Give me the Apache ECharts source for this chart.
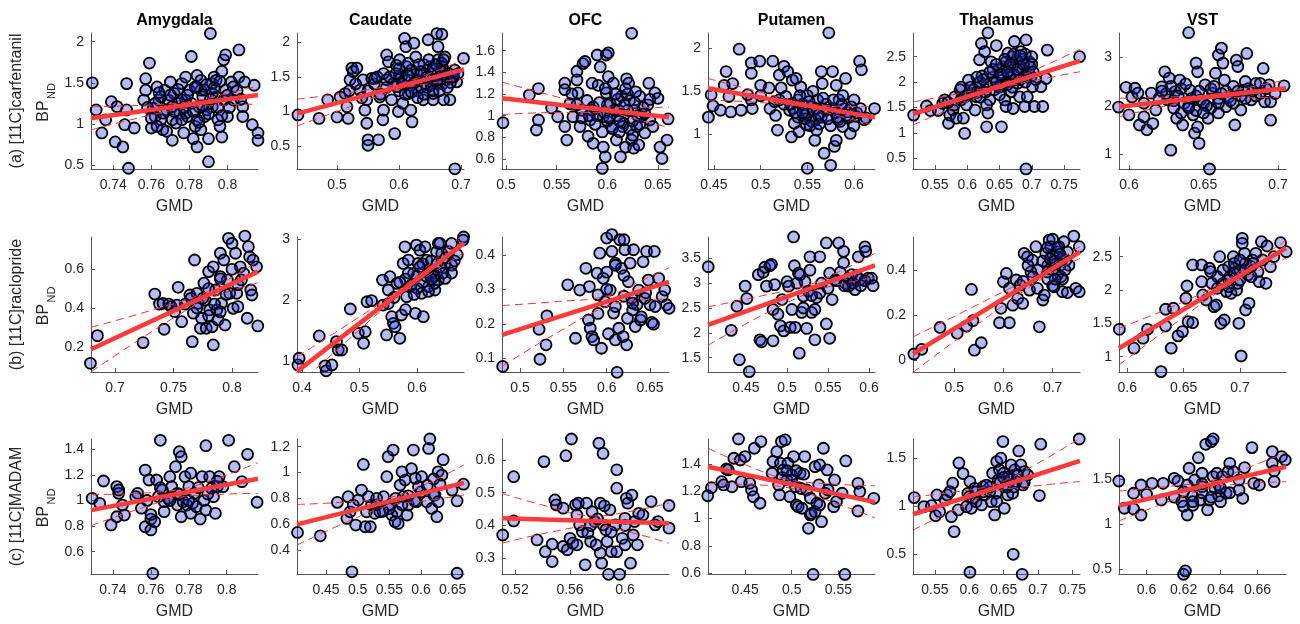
<!DOCTYPE html>
<html>
<head>
<meta charset="utf-8">
<script src="https://cdn.jsdelivr.net/npm/echarts@6/dist/echarts.min.js"></script>
<style>
html, body { margin: 0; background: #fff; }
#chart { width: 1300px; height: 624px; }
</style>
</head>
<body>
<div id="chart"></div>
<script>
const regions = ['Amygdala', 'Caudate', 'OFC', 'Putamen', 'Thalamus', 'VST'];
const tracers = ['(a) [11C]carfentanil', '(b) [11C]raclopride', '(c) [11C]MADAM'];

// ---- [11C]carfentanil : [GMD, BPnd]
const carfAmygdala = [[0.729,1.50],[0.731,1.17],[0.734,0.89],[0.736,1.05],[0.739,1.27],[0.741,0.78],[0.742,1.21],[0.745,0.72],[0.746,0.99],[0.747,1.49],[0.748,0.46],[0.747,1.17],[0.751,0.95],[0.756,1.29],[0.757,1.41],[0.757,1.55],[0.759,1.74],[0.760,0.95],[0.761,1.19],[0.762,1.09],[0.763,1.45],[0.764,1.29],[0.765,1.05],[0.766,0.93],[0.767,1.41],[0.768,1.17],[0.769,1.29],[0.770,1.51],[0.771,0.80],[0.771,1.05],[0.772,1.37],[0.774,1.25],[0.775,1.13],[0.776,1.49],[0.777,0.89],[0.778,1.57],[0.778,1.29],[0.779,1.09],[0.780,1.41],[0.781,1.82],[0.782,0.82],[0.783,0.97],[0.784,1.59],[0.784,0.72],[0.785,1.21],[0.786,1.41],[0.786,0.93],[0.787,1.33],[0.788,1.09],[0.790,0.54],[0.790,0.82],[0.791,2.10],[0.792,1.49],[0.792,1.21],[0.793,1.57],[0.794,1.33],[0.795,1.05],[0.796,0.97],[0.797,0.84],[0.797,1.64],[0.798,1.78],[0.799,1.84],[0.800,1.09],[0.802,1.51],[0.803,1.29],[0.806,1.90],[0.806,1.57],[0.808,1.21],[0.809,1.51],[0.808,1.09],[0.813,0.99],[0.814,1.47],[0.816,0.89],[0.816,0.80],
  [0.765,1.33],[0.768,0.91],[0.771,1.21],[0.773,1.01],[0.776,1.29],[0.778,1.13],[0.781,1.25],[0.784,1.05],[0.786,1.53],[0.788,1.41],[0.789,1.17],[0.792,1.37],[0.794,1.53],[0.798,1.29],[0.799,1.41],[0.803,1.45],[0.760,1.07],[0.763,0.97],[0.776,1.05],[0.784,1.45],
  [0.762,1.25],[0.766,1.13],[0.770,1.35],[0.772,1.15],[0.774,1.42],[0.777,1.20],[0.779,1.35],[0.782,1.15],[0.783,1.45],[0.785,1.02],[0.787,1.22],[0.789,1.48],[0.790,1.12],[0.791,1.30],[0.793,1.44],[0.795,1.20],[0.796,1.52],[0.797,1.10],[0.800,1.35],[0.801,1.20],[0.805,1.40],[0.807,1.30],[0.758,1.20],[0.764,1.38]];
const carfCaudate = [[0.437,0.95],[0.471,0.90],[0.485,1.17],[0.500,0.92],[0.505,1.21],[0.513,1.26],[0.516,1.07],[0.518,0.90],[0.521,1.46],[0.524,1.63],[0.526,1.58],[0.532,1.63],[0.537,1.31],[0.542,1.46],[0.548,1.17],[0.545,1.02],[0.548,0.83],[0.550,0.59],[0.550,0.51],[0.556,1.48],[0.561,1.48],[0.567,0.59],[0.569,1.21],[0.574,0.88],[0.575,1.02],[0.580,1.46],[0.580,1.82],[0.583,1.72],[0.588,1.17],[0.593,0.68],[0.596,1.67],[0.596,1.36],[0.599,1.00],[0.601,1.75],[0.604,1.50],[0.606,1.12],[0.609,2.06],[0.611,1.94],[0.612,1.65],[0.615,1.26],[0.619,1.02],[0.621,0.85],[0.624,1.99],[0.627,1.79],[0.629,1.55],[0.636,1.36],[0.639,1.17],[0.647,2.04],[0.650,1.65],[0.655,1.41],[0.661,2.13],[0.663,1.75],[0.655,1.17],[0.669,2.12],[0.663,1.94],[0.674,1.79],[0.669,1.70],[0.658,1.60],[0.661,1.41],[0.677,1.46],[0.693,1.43],[0.704,1.77],[0.682,1.17],[0.672,1.17],[0.690,0.17],[0.655,1.26],
  [0.59,1.40],[0.60,1.50],[0.61,1.45],[0.62,1.38],[0.63,1.45],[0.64,1.55],[0.645,1.35],[0.65,1.48],[0.66,1.52],[0.67,1.40],[0.68,1.55],[0.69,1.60],[0.62,1.60],[0.63,1.30],[0.60,1.30],[0.58,1.35],[0.57,1.25],[0.56,1.40],[0.55,1.30],[0.54,1.20],[0.565,1.50],[0.575,1.55],[0.64,1.68],[0.655,1.62],[0.67,1.65],[0.685,1.50],[0.61,1.25],[0.53,1.40],[0.52,1.30],
  [0.585,1.50],[0.595,1.55],[0.605,1.40],[0.615,1.52],[0.625,1.42],[0.635,1.58],[0.645,1.50],[0.652,1.38],[0.662,1.46],[0.668,1.58],[0.675,1.52],[0.683,1.42],[0.688,1.50],[0.695,1.55],[0.62,1.28],[0.63,1.20],[0.64,1.25],[0.655,1.30],[0.665,1.30],[0.678,1.35],[0.60,1.62],[0.615,1.70],[0.632,1.68],[0.648,1.75],[0.66,1.68],[0.672,1.75]];
const carfOFC = [[0.497,0.935],[0.523,1.19],[0.530,0.868],[0.532,0.96],[0.532,1.25],[0.545,1.07],[0.551,0.99],[0.558,1.30],[0.558,0.90],[0.560,0.775],[0.558,1.24],[0.563,1.11],[0.566,0.99],[0.570,1.41],[0.570,1.33],[0.571,1.21],[0.573,0.90],[0.575,1.05],[0.576,1.48],[0.578,1.50],[0.580,1.14],[0.581,0.81],[0.583,0.96],[0.585,1.30],[0.586,0.745],[0.586,1.08],[0.590,1.56],[0.591,1.28],[0.593,1.45],[0.595,0.514],[0.596,0.71],[0.596,0.99],[0.598,0.62],[0.599,1.56],[0.599,1.21],[0.601,1.58],[0.601,1.36],[0.603,1.11],[0.604,0.90],[0.606,1.30],[0.609,0.775],[0.611,1.05],[0.613,0.62],[0.614,1.18],[0.616,0.93],[0.618,0.71],[0.619,1.34],[0.621,1.30],[0.622,1.14],[0.624,1.76],[0.624,0.775],[0.626,0.70],[0.627,1.05],[0.629,0.90],[0.631,0.73],[0.632,1.18],[0.634,0.99],[0.637,0.84],[0.641,1.30],[0.642,0.96],[0.647,1.21],[0.650,1.16],[0.652,0.71],[0.654,0.605],[0.659,0.775],[0.660,0.97],
  [0.59,1.00],[0.60,0.95],[0.61,1.00],[0.615,0.90],[0.62,1.05],[0.625,0.95],[0.63,1.00],[0.60,1.10],[0.61,1.15],[0.62,1.20],[0.595,0.85],[0.605,0.88],[0.635,1.08],[0.64,1.10],[0.585,1.05],[0.575,0.98],[0.57,1.10],[0.565,1.20],
  [0.582,1.00],[0.588,0.92],[0.592,1.12],[0.597,1.03],[0.602,0.98],[0.607,1.05],[0.612,0.95],[0.617,1.10],[0.622,0.88],[0.627,1.12],[0.632,0.92],[0.637,1.02],[0.642,1.15],[0.645,0.90],[0.598,1.25],[0.608,1.20],[0.618,1.25],[0.628,1.22],[0.612,0.85],[0.625,0.82]];
const carfPutamen = [[0.444,1.20],[0.447,1.46],[0.449,1.33],[0.457,1.28],[0.461,1.57],[0.463,1.73],[0.466,1.44],[0.468,1.26],[0.470,1.59],[0.477,1.99],[0.479,1.28],[0.486,1.46],[0.490,1.83],[0.490,1.71],[0.491,1.30],[0.499,1.85],[0.500,1.57],[0.509,1.54],[0.513,1.85],[0.515,1.38],[0.516,1.22],[0.518,1.05],[0.520,1.69],[0.522,1.54],[0.525,1.79],[0.527,1.44],[0.529,1.73],[0.531,1.28],[0.533,0.97],[0.534,1.63],[0.536,1.13],[0.538,1.65],[0.540,1.40],[0.541,1.03],[0.543,1.55],[0.547,1.22],[0.549,1.11],[0.550,0.605],[0.554,1.32],[0.556,1.50],[0.558,0.93],[0.559,1.17],[0.561,1.40],[0.565,1.73],[0.566,1.59],[0.568,0.78],[0.570,1.28],[0.573,2.18],[0.575,0.64],[0.577,1.73],[0.579,0.86],[0.581,1.57],[0.581,0.93],[0.583,1.17],[0.584,1.40],[0.588,1.09],[0.591,1.65],[0.593,1.26],[0.596,1.01],[0.600,1.40],[0.602,1.21],[0.606,1.85],[0.608,1.75],[0.611,1.17],[0.622,1.30],[0.613,1.19],
  [0.535,1.30],[0.54,1.20],[0.545,1.35],[0.55,1.25],[0.555,1.15],[0.56,1.30],[0.565,1.20],[0.57,1.35],[0.575,1.10],[0.58,1.25],[0.585,1.15],[0.59,1.30],[0.595,1.20],[0.60,1.10],[0.55,1.45],[0.56,1.05],[0.52,1.40],[0.51,1.30],[0.50,1.45],[0.49,1.40],
  [0.532,1.35],[0.537,1.25],[0.542,1.45],[0.548,1.18],[0.552,1.38],[0.557,1.28],[0.562,1.22],[0.567,1.42],[0.572,1.18],[0.577,1.30],[0.582,1.20],[0.587,1.35],[0.592,1.22],[0.597,1.32],[0.603,1.25],[0.607,1.30],[0.553,1.10],[0.563,1.12],[0.578,1.40],[0.588,1.45],[0.545,1.25],[0.525,1.35]];
const carfThalamus = [[0.517,1.35],[0.537,1.53],[0.543,1.44],[0.555,1.44],[0.562,1.58],[0.565,1.65],[0.571,1.19],[0.573,1.35],[0.578,1.45],[0.581,1.71],[0.583,1.29],[0.589,1.85],[0.591,1.90],[0.594,1.29],[0.596,0.99],[0.599,1.55],[0.602,2.04],[0.607,1.78],[0.612,1.45],[0.614,1.71],[0.617,1.98],[0.619,2.44],[0.622,2.76],[0.623,2.12],[0.627,2.60],[0.630,1.12],[0.632,2.97],[0.632,1.39],[0.635,1.65],[0.637,2.40],[0.640,1.98],[0.642,1.85],[0.645,2.72],[0.649,2.24],[0.653,1.12],[0.655,2.11],[0.658,1.65],[0.660,1.52],[0.663,2.57],[0.665,2.30],[0.668,1.81],[0.671,1.48],[0.673,2.80],[0.676,2.40],[0.678,1.98],[0.681,1.71],[0.683,2.60],[0.686,2.24],[0.689,1.52],[0.691,2.83],[0.691,0.29],[0.693,1.71],[0.696,2.40],[0.699,2.11],[0.701,1.91],[0.704,1.52],[0.714,1.91],[0.717,1.52],[0.722,2.07],[0.724,2.63],[0.774,2.50],
  [0.61,1.85],[0.62,1.70],[0.63,1.95],[0.64,2.10],[0.65,1.90],[0.655,2.30],[0.66,2.00],[0.665,2.15],[0.67,1.90],[0.675,2.05],[0.68,2.30],[0.685,2.45],[0.69,2.00],[0.695,2.20],[0.70,2.35],[0.66,2.40],[0.64,2.25],[0.62,2.00],[0.60,1.75],[0.59,1.65],[0.58,1.55],[0.57,1.60],[0.65,1.75],[0.63,1.55],[0.67,2.50],[0.69,2.55],[0.70,2.50],
  [0.605,1.90],[0.615,1.80],[0.625,2.05],[0.635,2.20],[0.645,2.00],[0.652,2.15],[0.658,2.45],[0.662,1.95],[0.667,2.35],[0.672,2.15],[0.677,2.25],[0.682,2.05],[0.687,2.35],[0.692,2.10],[0.697,2.30],[0.702,2.20],[0.706,2.05],[0.672,2.55],[0.682,2.52],[0.662,2.20],[0.645,2.35],[0.628,1.80],[0.615,2.10],[0.595,1.70]];
const carfVST = [[0.593,1.97],[0.598,2.38],[0.600,1.81],[0.602,2.18],[0.604,2.36],[0.606,2.26],[0.607,1.60],[0.610,1.77],[0.612,1.50],[0.615,2.26],[0.616,1.63],[0.618,1.91],[0.622,2.39],[0.624,2.70],[0.626,2.12],[0.627,2.57],[0.628,1.08],[0.631,2.29],[0.632,1.74],[0.634,2.53],[0.636,1.60],[0.637,2.05],[0.640,3.51],[0.641,2.32],[0.643,1.81],[0.644,1.43],[0.645,2.88],[0.646,2.70],[0.646,1.56],[0.647,1.22],[0.648,2.12],[0.651,2.43],[0.653,1.74],[0.654,0.69],[0.656,2.26],[0.658,2.67],[0.660,3.05],[0.662,3.19],[0.663,2.88],[0.664,2.53],[0.665,1.98],[0.667,2.18],[0.671,1.60],[0.672,2.94],[0.673,2.81],[0.675,1.91],[0.677,2.32],[0.678,2.50],[0.679,3.08],[0.682,2.12],[0.685,2.46],[0.688,2.46],[0.690,2.77],[0.691,2.08],[0.695,2.08],[0.695,1.70],[0.694,2.43],[0.704,2.41],
  [0.625,2.25],[0.63,2.10],[0.635,2.35],[0.64,2.00],[0.645,2.20],[0.65,2.05],[0.655,2.35],[0.66,2.15],[0.665,2.30],[0.67,2.05],[0.675,2.20],[0.68,2.35],[0.685,2.20],[0.645,1.90],[0.655,1.95],[0.635,1.85],[0.62,2.15],[0.61,2.05],[0.66,1.85],[0.67,2.40],
  [0.622,2.30],[0.628,2.40],[0.633,2.20],[0.638,2.45],[0.642,2.15],[0.647,2.30],[0.652,2.00],[0.657,2.40],[0.662,2.25],[0.668,2.10],[0.673,2.30],[0.678,2.15],[0.683,2.30],[0.688,2.25],[0.640,1.95],[0.650,1.85],[0.660,2.05],[0.630,1.95],[0.692,2.35],[0.698,2.25]];

// ---- [11C]raclopride
const raclAmygdala = [[0.679,0.114],[0.685,0.257],[0.724,0.221],[0.734,0.472],[0.738,0.42],[0.741,0.424],[0.742,0.29],[0.746,0.42],[0.748,0.407],[0.751,0.381],[0.753,0.415],[0.754,0.507],[0.757,0.329],[0.764,0.467],[0.766,0.226],[0.767,0.373],[0.768,0.648],[0.770,0.476],[0.771,0.424],[0.773,0.295],[0.774,0.347],[0.776,0.528],[0.777,0.441],[0.778,0.295],[0.780,0.588],[0.781,0.39],[0.783,0.303],[0.784,0.613],[0.784,0.209],[0.786,0.493],[0.787,0.39],[0.788,0.338],[0.790,0.683],[0.790,0.562],[0.791,0.424],[0.793,0.648],[0.794,0.312],[0.796,0.545],[0.797,0.76],[0.798,0.476],[0.800,0.734],[0.801,0.398],[0.803,0.683],[0.804,0.476],[0.805,0.407],[0.807,0.613],[0.808,0.545],[0.811,0.772],[0.813,0.347],[0.814,0.717],[0.815,0.665],[0.816,0.493],[0.817,0.467],[0.818,0.648],[0.821,0.613],[0.822,0.307],
  [0.775,0.45],[0.78,0.50],[0.785,0.42],[0.79,0.55],[0.795,0.47],[0.80,0.60],[0.805,0.52],[0.77,0.40],[0.765,0.45],[0.79,0.38],[0.78,0.36],[0.81,0.58],[0.76,0.42]];
const raclCaudate = [[0.393,0.946],[0.395,1.055],[0.430,1.42],[0.440,0.93],[0.442,0.85],[0.452,0.946],[0.460,1.327],[0.463,1.19],[0.469,1.19],[0.484,1.861],[0.498,1.464],[0.507,1.30],[0.510,1.49],[0.513,1.98],[0.521,1.997],[0.540,2.335],[0.541,1.926],[0.547,1.437],[0.550,2.172],[0.553,2.39],[0.556,1.735],[0.559,1.627],[0.562,1.572],[0.565,2.281],[0.570,1.382],[0.573,1.763],[0.576,2.608],[0.579,2.879],[0.582,2.062],[0.585,2.662],[0.588,2.226],[0.594,2.444],[0.597,1.791],[0.599,2.907],[0.602,2.608],[0.605,2.825],[0.608,2.118],[0.611,1.735],[0.614,2.879],[0.617,2.662],[0.620,2.226],[0.623,2.444],[0.631,2.172],[0.634,2.797],[0.637,2.935],[0.640,2.935],[0.643,2.77],[0.649,2.608],[0.634,2.444],[0.637,2.335],[0.660,2.935],[0.660,2.58],[0.649,2.363],[0.681,3.04],[0.680,2.99],[0.630,2.281],
  [0.58,2.35],[0.59,2.25],[0.60,2.40],[0.61,2.30],[0.62,2.50],[0.63,2.40],[0.64,2.55],[0.65,2.70],[0.66,2.45],[0.60,2.20],[0.62,2.15],[0.57,2.30],[0.56,2.05],[0.55,1.95],[0.58,1.85],[0.61,2.60],[0.67,2.75],
  [0.585,2.45],[0.595,2.10],[0.605,2.55],[0.615,2.40],[0.625,2.65],[0.635,2.60],[0.645,2.45],[0.655,2.80],[0.665,2.65],[0.625,2.35]];
const raclOFC = [[0.480,0.076],[0.522,0.184],[0.523,0.097],[0.531,0.223],[0.530,0.139],[0.555,0.313],[0.564,0.158],[0.569,0.298],[0.576,0.361],[0.579,0.211],[0.580,0.308],[0.581,0.187],[0.583,0.163],[0.585,0.153],[0.589,0.347],[0.590,0.284],[0.592,0.405],[0.594,0.129],[0.596,0.332],[0.598,0.264],[0.600,0.449],[0.602,0.171],[0.604,0.298],[0.606,0.459],[0.606,0.41],[0.608,0.231],[0.610,0.153],[0.610,0.376],[0.612,0.059],[0.614,0.187],[0.615,0.444],[0.617,0.361],[0.619,0.163],[0.620,0.444],[0.621,0.415],[0.623,0.139],[0.624,0.216],[0.625,0.322],[0.627,0.376],[0.629,0.274],[0.631,0.415],[0.633,0.192],[0.635,0.255],[0.637,0.298],[0.639,0.211],[0.642,0.38],[0.644,0.274],[0.646,0.41],[0.648,0.327],[0.650,0.255],[0.652,0.204],[0.654,0.199],[0.655,0.41],[0.656,0.25],[0.660,0.332],[0.664,0.279],[0.667,0.298],[0.669,0.255],[0.672,0.245],
  [0.60,0.30],[0.61,0.25],[0.62,0.28],[0.63,0.24],[0.64,0.22],[0.59,0.23],[0.60,0.35],[0.61,0.37],[0.62,0.34],[0.63,0.26],[0.645,0.29]];
const raclPutamen = [[0.404,3.33],[0.432,2.05],[0.439,2.535],[0.442,1.46],[0.449,2.94],[0.454,1.22],[0.451,2.69],[0.465,3.17],[0.467,1.86],[0.469,1.82],[0.471,3.22],[0.473,3.32],[0.475,2.94],[0.479,3.35],[0.481,3.38],[0.483,1.84],[0.483,2.47],[0.485,2.97],[0.489,2.375],[0.492,2.14],[0.494,2.67],[0.496,2.04],[0.500,3.03],[0.502,2.94],[0.504,2.11],[0.506,2.47],[0.508,3.93],[0.509,3.35],[0.510,2.11],[0.512,3.00],[0.514,3.20],[0.515,1.59],[0.516,3.17],[0.518,2.41],[0.520,2.74],[0.522,3.03],[0.524,2.09],[0.526,2.84],[0.528,3.26],[0.528,3.53],[0.530,2.41],[0.534,2.47],[0.534,1.86],[0.536,2.71],[0.540,3.53],[0.542,3.00],[0.548,3.81],[0.548,2.18],[0.552,1.89],[0.552,3.20],[0.555,2.67],[0.559,3.07],[0.563,3.81],[0.565,3.22],[0.569,3.64],[0.569,3.41],[0.571,3.00],[0.575,2.94],[0.579,3.17],[0.583,2.87],[0.587,3.53],[0.589,3.07],[0.595,3.73],[0.596,3.64],[0.599,3.10],[0.603,3.10],[0.605,2.95],
  [0.56,3.05],[0.57,2.95],[0.575,3.10],[0.58,3.00],[0.585,3.15],[0.59,2.95],[0.595,3.05],[0.55,2.90],[0.54,2.80],[0.53,2.75],[0.52,2.50]];
const raclThalamus = [[0.418,0.027],[0.434,0.048],[0.471,0.145],[0.506,0.119],[0.525,0.151],[0.535,0.314],[0.538,0.175],[0.541,0.044],[0.555,0.077],[0.592,0.166],[0.595,0.23],[0.600,0.348],[0.606,0.385],[0.612,0.166],[0.612,0.319],[0.619,0.244],[0.626,0.356],[0.629,0.274],[0.634,0.333],[0.639,0.252],[0.642,0.474],[0.649,0.459],[0.653,0.311],[0.656,0.392],[0.659,0.444],[0.666,0.504],[0.669,0.319],[0.673,0.148],[0.680,0.267],[0.683,0.289],[0.686,0.474],[0.690,0.392],[0.693,0.533],[0.696,0.504],[0.700,0.537],[0.703,0.326],[0.707,0.43],[0.710,0.481],[0.713,0.504],[0.717,0.37],[0.720,0.304],[0.723,0.526],[0.727,0.444],[0.730,0.30],[0.733,0.422],[0.743,0.551],[0.747,0.319],[0.754,0.504],[0.754,0.304],
  [0.69,0.42],[0.70,0.40],[0.71,0.38],[0.72,0.45],[0.70,0.47],[0.68,0.44],[0.67,0.40],[0.66,0.37],[0.71,0.50],[0.72,0.36],[0.73,0.48],[0.69,0.36],[0.65,0.42],[0.64,0.35],[0.70,0.33],
  [0.695,0.45],[0.705,0.44],[0.715,0.42],[0.725,0.40],[0.705,0.36],[0.69,0.50],[0.715,0.47]];
const raclVST = [[0.593,1.41],[0.606,1.127],[0.614,1.277],[0.618,1.41],[0.630,0.776],[0.634,1.711],[0.634,1.46],[0.639,1.127],[0.641,1.726],[0.645,1.312],[0.649,1.376],[0.652,1.876],[0.653,2.06],[0.654,1.525],[0.658,1.51],[0.658,2.376],[0.666,2.376],[0.666,2.125],[0.667,1.926],[0.670,1.85],[0.673,2.326],[0.674,2.275],[0.677,1.75],[0.679,1.775],[0.680,2.026],[0.682,2.50],[0.683,1.50],[0.685,2.30],[0.686,1.55],[0.688,1.976],[0.691,2.20],[0.692,1.95],[0.694,2.50],[0.695,2.326],[0.697,2.00],[0.698,2.10],[0.699,1.50],[0.701,1.01],[0.702,2.775],[0.702,2.70],[0.704,2.55],[0.705,1.70],[0.707,2.226],[0.708,1.80],[0.711,2.45],[0.714,2.55],[0.716,2.275],[0.717,2.125],[0.719,2.725],[0.723,2.10],[0.724,2.66],[0.727,2.35],[0.730,2.50],[0.736,2.71],[0.741,2.575],
  [0.685,2.10],[0.69,2.35],[0.695,2.40],[0.70,2.30],[0.705,2.40],[0.71,2.35],[0.68,2.20],[0.675,2.10],[0.70,2.15],[0.69,2.05],[0.71,2.20],[0.72,2.45],
  [0.695,2.25],[0.705,2.30],[0.712,2.40],[0.69,2.15],[0.70,2.45]];

// ---- [11C]MADAM
const madamAmygdala = [[0.729,1.017],[0.733,0.978],[0.735,1.152],[0.739,0.809],[0.742,1.108],[0.742,0.873],[0.743,1.056],[0.743,1.082],[0.745,0.964],[0.746,0.886],[0.753,1.056],[0.752,1.03],[0.755,0.94],[0.757,1.237],[0.757,0.795],[0.758,1.00],[0.759,1.16],[0.760,0.855],[0.760,0.77],[0.760,0.89],[0.761,0.43],[0.762,0.834],[0.763,1.16],[0.764,1.03],[0.765,1.47],[0.766,1.082],[0.767,0.913],[0.767,0.991],[0.769,1.017],[0.770,1.186],[0.771,1.108],[0.773,1.264],[0.774,0.964],[0.774,1.056],[0.775,1.381],[0.776,1.342],[0.776,0.873],[0.777,0.991],[0.778,1.186],[0.779,0.964],[0.780,1.108],[0.781,0.90],[0.781,1.213],[0.782,0.978],[0.783,1.056],[0.784,0.952],[0.786,0.855],[0.787,1.186],[0.788,1.00],[0.789,0.925],[0.789,1.428],[0.791,1.186],[0.792,1.095],[0.793,1.03],[0.794,0.90],[0.795,1.108],[0.796,1.186],[0.798,1.108],[0.801,1.47],[0.804,1.264],[0.808,1.147],[0.811,1.36],[0.816,0.986],
  [0.775,1.05],[0.78,1.00],[0.785,1.10],[0.79,1.05],[0.77,1.00],[0.765,1.10],[0.795,1.15]];
const madamCaudate = [[0.405,0.536],[0.441,0.51],[0.468,0.769],[0.483,0.645],[0.485,0.813],[0.488,0.696],[0.491,0.231],[0.493,0.748],[0.497,0.593],[0.501,0.787],[0.506,0.864],[0.509,1.063],[0.512,0.58],[0.514,0.696],[0.517,0.813],[0.520,0.58],[0.522,0.748],[0.527,0.684],[0.530,0.80],[0.535,0.696],[0.541,0.813],[0.546,0.968],[0.548,1.123],[0.551,0.748],[0.554,0.671],[0.556,1.174],[0.559,0.619],[0.562,0.696],[0.564,0.606],[0.567,0.903],[0.570,1.006],[0.572,0.813],[0.575,0.942],[0.578,0.671],[0.580,0.748],[0.585,1.03],[0.588,1.174],[0.591,0.955],[0.593,0.774],[0.596,0.89],[0.601,0.968],[0.609,0.774],[0.612,1.187],[0.614,1.26],[0.617,0.722],[0.620,0.826],[0.625,0.658],[0.627,1.006],[0.635,1.10],[0.633,0.98],[0.622,0.826],[0.627,0.774],[0.630,0.91],[0.649,0.864],[0.657,0.22],[0.667,0.91],[0.657,0.78],
  [0.58,0.82],[0.59,0.78],[0.60,0.85],[0.57,0.75],[0.56,0.80],[0.55,0.72],[0.61,0.90],[0.62,0.95],[0.54,0.70],[0.53,0.75]];
const madamOFC = [[0.511,0.371],[0.519,0.414],[0.519,0.549],[0.536,0.356],[0.541,0.595],[0.542,0.32],[0.547,0.29],[0.547,0.343],[0.549,0.478],[0.550,0.463],[0.555,0.453],[0.555,0.336],[0.557,0.613],[0.558,0.326],[0.560,0.361],[0.561,0.664],[0.562,0.346],[0.564,0.463],[0.565,0.432],[0.565,0.341],[0.566,0.468],[0.567,0.402],[0.569,0.381],[0.571,0.28],[0.572,0.468],[0.573,0.377],[0.575,0.351],[0.576,0.442],[0.578,0.412],[0.579,0.341],[0.581,0.651],[0.582,0.468],[0.582,0.316],[0.583,0.285],[0.584,0.62],[0.584,0.402],[0.586,0.387],[0.587,0.351],[0.588,0.251],[0.589,0.448],[0.590,0.32],[0.593,0.402],[0.594,0.57],[0.594,0.514],[0.594,0.32],[0.596,0.251],[0.598,0.361],[0.600,0.422],[0.600,0.341],[0.601,0.483],[0.602,0.468],[0.604,0.285],[0.605,0.493],[0.606,0.371],[0.607,0.412],[0.609,0.341],[0.610,0.437],[0.613,0.432],[0.619,0.473],[0.622,0.402],[0.624,0.412],[0.632,0.461],[0.632,0.392],
  [0.58,0.42],[0.59,0.38],[0.575,0.40],[0.60,0.40],[0.585,0.46]];
const madamPutamen = [[0.410,1.167],[0.414,1.226],[0.425,1.27],[0.427,1.246],[0.430,1.363],[0.432,1.356],[0.436,1.233],[0.438,1.442],[0.443,1.583],[0.445,1.429],[0.446,1.27],[0.450,1.454],[0.455,1.258],[0.457,1.209],[0.459,1.16],[0.460,1.515],[0.466,1.112],[0.467,1.564],[0.479,1.332],[0.480,1.418],[0.484,1.49],[0.486,1.246],[0.487,1.173],[0.488,1.405],[0.489,1.564],[0.491,1.356],[0.493,1.576],[0.495,1.283],[0.496,1.405],[0.498,1.16],[0.500,1.32],[0.502,1.454],[0.504,1.233],[0.505,1.099],[0.507,1.087],[0.509,1.332],[0.511,1.075],[0.513,1.325],[0.514,1.454],[0.516,1.209],[0.518,0.928],[0.520,1.026],[0.523,0.59],[0.521,1.037],[0.525,1.38],[0.527,1.112],[0.529,1.246],[0.530,1.393],[0.532,0.977],[0.534,1.515],[0.536,1.185],[0.538,1.356],[0.539,1.209],[0.545,1.087],[0.546,1.283],[0.548,1.124],[0.554,1.185],[0.557,0.59],[0.558,1.422],[0.571,1.258],[0.571,1.055],[0.573,1.197],[0.588,1.148],
  [0.49,1.30],[0.50,1.28],[0.51,1.22],[0.52,1.15],[0.53,1.10],[0.525,1.05],[0.505,1.35],[0.495,1.35]];
const madamThalamus = [[0.520,1.09],[0.534,0.996],[0.545,1.006],[0.551,0.902],[0.553,1.118],[0.557,0.944],[0.565,1.066],[0.568,1.118],[0.572,1.153],[0.574,0.892],[0.576,1.24],[0.578,0.736],[0.584,0.962],[0.585,1.451],[0.591,1.34],[0.596,0.996],[0.598,1.135],[0.601,0.313],[0.601,1.257],[0.603,0.979],[0.605,1.083],[0.608,1.187],[0.610,1.048],[0.618,1.014],[0.620,1.204],[0.622,1.118],[0.630,1.153],[0.632,1.048],[0.634,1.344],[0.637,0.91],[0.639,1.135],[0.640,1.465],[0.642,1.274],[0.644,1.378],[0.646,1.50],[0.649,1.673],[0.650,1.344],[0.651,0.979],[0.654,1.222],[0.656,1.118],[0.658,1.309],[0.661,1.43],[0.663,1.135],[0.664,0.50],[0.666,1.378],[0.668,1.257],[0.672,1.576],[0.675,1.43],[0.677,0.292],[0.678,1.222],[0.680,1.361],[0.685,1.326],[0.702,1.111],[0.704,1.646],[0.760,1.70],
  [0.62,1.15],[0.63,1.20],[0.645,1.25],[0.65,1.30],[0.655,1.20],[0.66,1.28],[0.665,1.20],[0.67,1.32],[0.68,1.25],[0.60,1.10],[0.61,1.15],[0.64,1.05],[0.625,1.22]];
const madamVST = [[0.585,1.481],[0.588,1.177],[0.593,1.344],[0.593,1.169],[0.597,1.102],[0.597,1.436],[0.600,1.333],[0.603,1.455],[0.608,1.269],[0.609,1.455],[0.615,1.511],[0.617,1.481],[0.619,1.25],[0.620,1.361],[0.620,0.441],[0.621,0.478],[0.622,1.436],[0.622,1.102],[0.623,1.623],[0.625,1.21],[0.625,1.314],[0.626,1.492],[0.628,1.741],[0.629,1.269],[0.630,1.567],[0.630,1.418],[0.632,1.89],[0.633,1.158],[0.634,1.269],[0.635,1.92],[0.636,1.53],[0.636,1.95],[0.637,1.40],[0.638,1.567],[0.639,1.314],[0.639,1.436],[0.641,1.53],[0.643,1.344],[0.644,1.585],[0.645,1.678],[0.647,1.585],[0.650,1.492],[0.652,1.288],[0.653,1.63],[0.657,1.853],[0.658,1.455],[0.661,1.436],[0.668,1.808],[0.668,1.678],[0.669,1.593],[0.669,1.474],[0.673,1.753],[0.675,1.715],
  [0.63,1.35],[0.635,1.30],[0.64,1.40],[0.645,1.35],[0.625,1.25],[0.62,1.20],[0.63,1.45],[0.64,1.25],[0.65,1.38],[0.615,1.30]];

const points = [carfAmygdala, carfCaudate, carfOFC, carfPutamen, carfThalamus, carfVST,
  raclAmygdala, raclCaudate, raclOFC, raclPutamen, raclThalamus, raclVST,
  madamAmygdala, madamCaudate, madamOFC, madamPutamen, madamThalamus, madamVST];

// regression line end points [x0, y0, x1, y1]
const fitLines = [
  [0.7283,1.068,0.816,1.351],[0.4355,0.97,0.7048,1.61],[0.496,1.16,0.6609,0.985],[0.4436,1.535,0.6225,1.197],[0.516,1.372,0.7746,2.42],[0.5933,1.977,0.7053,2.362],
  [0.6795,0.187,0.8222,0.588],[0.3913,0.84,0.6817,2.94],[0.4792,0.168,0.6719,0.322],[0.4037,2.16,0.6073,3.36],[0.4162,0.027,0.7556,0.481],[0.5927,1.127,0.7408,2.63],
  [0.7284,0.925,0.8165,1.17],[0.4042,0.598,0.6679,0.92],[0.5105,0.422,0.632,0.407],[0.4103,1.38,0.5893,1.12],[0.5182,0.917,0.7611,1.472],[0.5851,1.206,0.6754,1.64]];

// confidence band (dashed) read at a few GMD values
const ciX = [
  [0.7283,0.755,0.778,0.797,0.816],[0.4355,0.52,0.60,0.65,0.7048],[0.496,0.545,0.595,0.63,0.6609],[0.4436,0.495,0.545,0.585,0.6225],[0.516,0.585,0.65,0.71,0.7746],[0.5933,0.62,0.65,0.68,0.7053],
  [0.6795,0.73,0.775,0.80,0.8222],[0.3913,0.48,0.57,0.63,0.6817],[0.4792,0.54,0.60,0.64,0.6719],[0.4037,0.465,0.53,0.57,0.6073],[0.4162,0.54,0.67,0.72,0.7556],[0.5927,0.64,0.685,0.715,0.7408],
  [0.7284,0.75,0.775,0.795,0.8165],[0.4042,0.48,0.55,0.61,0.6679],[0.5105,0.545,0.578,0.605,0.632],[0.4103,0.45,0.495,0.54,0.5893],[0.5182,0.58,0.64,0.70,0.7611],[0.5851,0.61,0.635,0.655,0.6754]];
const ciUpper = [
  [1.208,1.226,1.263,1.353,1.461],[1.18,1.275,1.401,1.553,1.75],[1.31,1.187,1.08,1.073,1.08],[1.65,1.503,1.368,1.326,1.32],[1.61,1.769,1.96,2.27,2.645],[2.15,2.175,2.212,2.379,2.53],
  [0.30,0.386,0.475,0.559,0.642],[1.08,1.611,2.184,2.664,3.10],[0.253,0.264,0.28,0.325,0.363],[2.525,2.729,2.984,3.285,3.60],[0.103,0.238,0.385,0.455,0.505],[1.425,1.75,2.115,2.455,2.74],
  [1.045,1.054,1.085,1.173,1.295],[0.753,0.771,0.806,0.915,1.06],[0.498,0.457,0.429,0.444,0.468],[1.515,1.395,1.287,1.254,1.24],[1.10,1.149,1.235,1.449,1.708],[1.37,1.416,1.486,1.631,1.80]];
const ciLower = [
  [0.928,1.082,1.193,1.227,1.241],[0.79,1.067,1.321,1.407,1.48],[1.01,1.029,1.03,0.963,0.89],[1.40,1.373,1.318,1.21,1.10],[1.155,1.533,1.87,2.046,2.205],[1.77,1.963,2.132,2.173,2.172],
  [0.07,0.272,0.435,0.491,0.53],[0.60,1.355,2.084,2.472,2.78],[0.076,0.17,0.25,0.269,0.272],[1.75,2.313,2.824,2.995,3.12],[-0.055,0.148,0.349,0.414,0.452],[0.876,1.47,2.015,2.28,2.476],
  [0.803,0.916,1.025,1.047,1.056],[0.438,0.611,0.746,0.783,0.826],[0.346,0.379,0.399,0.378,0.346],[1.258,1.249,1.227,1.13,1.005],[0.753,0.967,1.155,1.215,1.257],[1.035,1.236,1.406,1.453,1.474]];

// axis limits and tick labels
const xLimits = [
  [0.7283,0.816],[0.4355,0.7048],[0.496,0.6609],[0.4436,0.6225],[0.516,0.7746],[0.5933,0.7053],
  [0.6795,0.8222],[0.3913,0.6817],[0.4792,0.6719],[0.4037,0.6073],[0.4162,0.7556],[0.5927,0.7408],
  [0.7284,0.8165],[0.4042,0.6679],[0.5105,0.632],[0.4103,0.5893],[0.5182,0.7611],[0.5851,0.6754]];
const yLimits = [
  [0.451,2.106],[0.167,2.138],[0.508,1.763],[0.597,2.178],[0.289,2.967],[0.69,3.503],
  [0.069,0.767],[0.83,3.04],[0.06,0.452],[1.212,3.929],[-0.053,0.547],[0.77,2.795],
  [0.426,1.48],[0.214,1.26],[0.252,0.664],[0.593,1.583],[0.295,1.70],[0.444,1.949]];
const xTicks = [
  [0.74,0.76,0.78,0.8],[0.5,0.6,0.7],[0.5,0.55,0.6,0.65],[0.45,0.5,0.55,0.6],[0.55,0.6,0.65,0.7,0.75],[0.6,0.65,0.7],
  [0.7,0.75,0.8],[0.4,0.5,0.6],[0.5,0.55,0.6,0.65],[0.45,0.5,0.55,0.6],[0.5,0.6,0.7],[0.6,0.65,0.7],
  [0.74,0.76,0.78,0.8],[0.45,0.5,0.55,0.6,0.65],[0.52,0.56,0.6],[0.45,0.5,0.55],[0.55,0.6,0.65,0.7,0.75],[0.6,0.62,0.64,0.66]];
const yTicks = [
  [0.5,1,1.5,2],[0.5,1,1.5,2],[0.6,0.8,1,1.2,1.4,1.6],[1,1.5,2],[0.5,1,1.5,2,2.5],[1,2,3],
  [0.2,0.4,0.6],[1,2,3],[0.1,0.2,0.3,0.4],[1.5,2,2.5,3,3.5],[0,0.2,0.4],[1,1.5,2,2.5],
  [0.6,0.8,1,1.2,1.4],[0.4,0.6,0.8,1,1.2],[0.3,0.4,0.5,0.6],[0.6,0.8,1,1.2,1.4],[0.5,1,1.5],[0.5,1,1.5]];

const colLeft = [91, 297, 502, 708, 913, 1119];
const rowTop = [33, 237, 439];
const rowHeight = [136, 135, 135];
const panelW = 167;
const FONT = '"Liberation Sans", Arial, Helvetica, sans-serif';
const fmt = v => String(Math.round(v * 1000) / 1000);

const grid = [], xAxis = [], yAxis = [], series = [];
points.forEach((pts, i) => {
  const r = Math.floor(i / 6), c = i % 6;
  grid.push({ left: colLeft[c], top: rowTop[r], width: panelW, height: rowHeight[r] });
  xAxis.push({
    gridIndex: i, type: 'value', min: xLimits[i][0], max: xLimits[i][1],
    name: 'GMD', nameLocation: 'middle', nameGap: 30,
    nameTextStyle: { color: '#262626', fontSize: 16, fontFamily: FONT },
    axisLine: { onZero: false, lineStyle: { color: '#555', width: 1 } },
    axisTick: { inside: true, length: 4, customValues: xTicks[i], lineStyle: { color: '#555' } },
    axisLabel: { customValues: xTicks[i], formatter: fmt, margin: 9, color: '#262626', fontSize: 14, fontFamily: FONT },
    splitLine: { show: false }
  });
  yAxis.push({
    gridIndex: i, type: 'value', min: yLimits[i][0], max: yLimits[i][1],
    axisLine: { show: true, onZero: false, lineStyle: { color: '#555', width: 1 } },
    axisTick: { show: true, inside: true, length: 4, customValues: yTicks[i], lineStyle: { color: '#555' } },
    axisLabel: { customValues: yTicks[i], formatter: fmt, margin: 7, color: '#262626', fontSize: 14, fontFamily: FONT },
    splitLine: { show: false }
  });
  series.push({
    type: 'scatter', xAxisIndex: i, yAxisIndex: i, data: pts, symbolSize: 11, clip: false,
    itemStyle: { color: 'rgba(30,52,226,0.33)', borderColor: '#000', borderWidth: 1.8, opacity: 1 }
  });
  const dash = { color: '#ff2e2e', width: 1, type: [8, 5] };
  series.push({
    type: 'line', xAxisIndex: i, yAxisIndex: i, smooth: 0.4, symbol: 'none',
    data: ciX[i].map((x, k) => [x, ciUpper[i][k]]), lineStyle: dash
  });
  series.push({
    type: 'line', xAxisIndex: i, yAxisIndex: i, smooth: 0.4, symbol: 'none',
    data: ciX[i].map((x, k) => [x, ciLower[i][k]]), lineStyle: dash
  });
  const f = fitLines[i];
  series.push({
    type: 'line', xAxisIndex: i, yAxisIndex: i, symbol: 'none',
    data: [[f[0], f[1]], [f[2], f[3]]], lineStyle: { color: '#ff3a3a', width: 4.5, cap: 'butt' }
  });
});

const graphic = [];
regions.forEach((name, c) => {
  graphic.push({
    type: 'text', x: colLeft[c] + panelW / 2, y: 21,
    style: { text: name, fill: '#000', fontSize: 16, fontWeight: 'bold', fontFamily: FONT, align: 'center', verticalAlign: 'middle' }
  });
});
tracers.forEach((t, r) => {
  const cy = rowTop[r] + rowHeight[r] / 2;
  graphic.push({
    type: 'text', x: 17, y: cy, rotation: Math.PI / 2,
    style: { text: t, fill: '#262626', fontSize: 16, fontFamily: FONT, align: 'center', verticalAlign: 'middle' }
  });
  graphic.push({
    type: 'text', x: 44, y: cy + 10, rotation: Math.PI / 2,
    style: { text: 'BP', fill: '#262626', fontSize: 16, fontFamily: FONT, align: 'center', verticalAlign: 'middle' }
  });
  graphic.push({
    type: 'text', x: 52, y: cy - 10, rotation: Math.PI / 2,
    style: { text: 'ND', fill: '#262626', fontSize: 11, fontFamily: FONT, align: 'center', verticalAlign: 'middle' }
  });
});

const chart = echarts.init(document.getElementById('chart'));
chart.setOption({
  animation: false,
  backgroundColor: '#fff',
  grid, xAxis, yAxis, series, graphic
});
</script>
</body>
</html>
